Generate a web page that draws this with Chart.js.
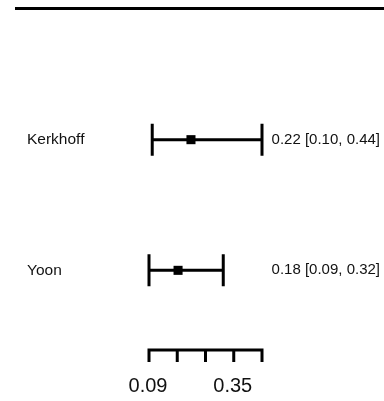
<!DOCTYPE html>
<html>
<head>
<meta charset="utf-8">
<script src="https://cdn.jsdelivr.net/npm/chart.js@4/dist/chart.umd.min.js"></script>
<style>
  html, body { margin: 0; padding: 0; background: #fff; }
  #wrap { width: 384px; height: 401px; position: relative; }
</style>
</head>
<body>
<div id="wrap"><canvas id="forest"></canvas></div>
<script>
const studies = ['Kerkhoff', 'Yoon']
const estimates = [0.22, 0.18]
const lowers = [0.10, 0.09]
const uppers = [0.44, 0.32]
const rows = [2, 1]
const tickValues = [0.09, 0.1775, 0.265, 0.3525, 0.44]
const tickLabels = ['0.09', '', '', '0.35', '']
const axisRow = 0.39

const font = '"Liberation Sans", Arial, sans-serif'

const forestPlugin = {
  id: 'forest',
  beforeDatasetsDraw: (chart) => {
    const { ctx, scales } = chart
    const x = scales.x
    const y = scales.y

    ctx.save()
    ctx.strokeStyle = '#000'
    ctx.lineWidth = 3

    // top rule
    ctx.beginPath()
    ctx.moveTo(15, y.getPixelForValue(3) - 0.5)
    ctx.lineTo(384, y.getPixelForValue(3) - 0.5)
    ctx.stroke()

    // confidence intervals
    rows.forEach((row, i) => {
      const py = y.getPixelForValue(row)
      const x0 = x.getPixelForValue(lowers[i])
      const x1 = x.getPixelForValue(uppers[i])
      ctx.beginPath()
      ctx.moveTo(x0, py)
      ctx.lineTo(x1, py)
      ctx.moveTo(x0, py - 16)
      ctx.lineTo(x0, py + 16)
      ctx.moveTo(x1, py - 16)
      ctx.lineTo(x1, py + 16)
      ctx.stroke()
    })

    // bottom axis
    const ay = y.getPixelForValue(axisRow)
    ctx.beginPath()
    ctx.moveTo(x.getPixelForValue(tickValues[0]) - 1.5, ay)
    ctx.lineTo(x.getPixelForValue(tickValues[tickValues.length - 1]) + 1.5, ay)
    tickValues.forEach(v => {
      const px = x.getPixelForValue(v)
      ctx.moveTo(px, ay)
      ctx.lineTo(px, ay + 12)
    })
    ctx.stroke()

    ctx.fillStyle = '#111'
    ctx.textBaseline = 'middle'
    ctx.textAlign = 'center'
    ctx.font = '20px ' + font
    tickValues.forEach((v, i) => {
      if (tickLabels[i]) ctx.fillText(tickLabels[i], x.getPixelForValue(v) - 1, ay + 36)
    })

    // study labels and annotations
    ctx.font = '15.5px ' + font
    ctx.textAlign = 'left'
    rows.forEach((row, i) => {
      const py = y.getPixelForValue(row)
      ctx.fillText(studies[i], 27, py)
    })
    ctx.font = '15px ' + font
    ctx.textAlign = 'right'
    rows.forEach((row, i) => {
      const py = y.getPixelForValue(row)
      const txt = estimates[i].toFixed(2) + ' [' + lowers[i].toFixed(2) + ', ' + uppers[i].toFixed(2) + ']'
      ctx.fillText(txt, 380, py)
    })
    ctx.restore()
  }
}

new Chart(document.getElementById('forest'), {
  type: 'scatter',
  data: {
    datasets: [{
      data: estimates.map((e, i) => ({ x: e, y: rows[i] })),
      pointStyle: 'rect',
      radius: 6.4,
      hoverRadius: 6.4,
      backgroundColor: '#000',
      borderWidth: 0
    }]
  },
  options: {
    responsive: true,
    maintainAspectRatio: false,
    animation: false,
    layout: { autoPadding: false, padding: { left: 149, right: 122, top: 9, bottom: 0 } },
    plugins: { legend: { display: false }, tooltip: { enabled: false } },
    scales: {
      x: { type: 'linear', min: 0.09, max: 0.44, display: false },
      y: { type: 'linear', min: 0, max: 3, display: false }
    },
    clip: false
  },
  plugins: [forestPlugin]
})
</script>
</body>
</html>
